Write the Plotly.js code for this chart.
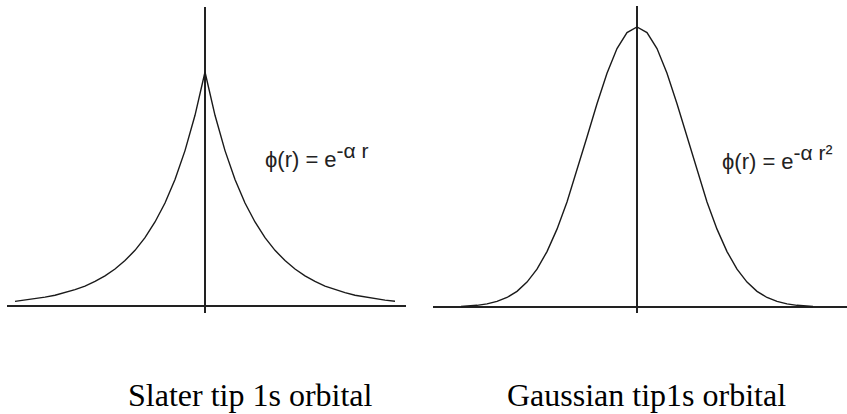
<!DOCTYPE html>
<html>
<head>
<meta charset="utf-8">
<script src="https://cdn.plot.ly/plotly-3.0.1.min.js"></script>
<style>html,body{margin:0;padding:0;background:#fff;}#chart{width:847px;height:414px;}</style>
</head>
<body>
<div id="chart"></div>
<script>
// Slater orbital: radial distance (px-like units from nucleus) and relative amplitude
const slaterR = [-190,-180,-170,-160,-150,-140,-130,-120,-110,-100,-90,-80,-70,-60,-50,-40,-30,-20,-10,0,10,20,30,40,50,60,70,80,90,100,110,120,130,140,150,160,170,180,190];
const slaterPhi = [0.020,0.025,0.031,0.038,0.046,0.057,0.070,0.085,0.105,0.129,0.158,0.194,0.238,0.292,0.359,0.440,0.541,0.664,0.815,1.000,0.815,0.664,0.541,0.440,0.359,0.292,0.238,0.194,0.158,0.129,0.105,0.085,0.070,0.057,0.046,0.038,0.031,0.025,0.020];

// Gaussian orbital
const gaussR = [-176,-170,-160,-150,-140,-130,-120,-110,-100,-90,-80,-70,-60,-50,-40,-30,-20,-10,0,10,20,30,40,50,60,70,80,90,100,110,120,130,140,150,160,170,176];
const gaussPhi = [0.002,0.003,0.006,0.011,0.020,0.034,0.056,0.089,0.135,0.198,0.278,0.375,0.487,0.607,0.726,0.835,0.923,0.980,1.000,0.980,0.923,0.835,0.726,0.607,0.487,0.375,0.278,0.198,0.135,0.089,0.056,0.034,0.020,0.011,0.006,0.003,0.002];

const formulaLeft = "ϕ(r) = e<sup><span style=\"font-size:21px\">-α r</span></sup>";
const formulaRight = "ϕ(r) = e<sup><span style=\"font-size:21px\">-α r²</span></sup>";
const captionLeft = "Slater tip 1s orbital";
const captionRight = "Gaussian tip1s orbital";

const W = 847, H = 414;
const lineColor = "#1a1a1a";

const traces = [
  {x: slaterR, y: slaterPhi, type: "scatter", mode: "lines", xaxis: "x", yaxis: "y",
   line: {color: lineColor, width: 1.4}, hoverinfo: "skip"},
  {x: gaussR, y: gaussPhi, type: "scatter", mode: "lines", xaxis: "x2", yaxis: "y2",
   line: {color: lineColor, width: 1.4}, hoverinfo: "skip"}
];

function ax(domain, range) {
  return {domain: domain, range: range, showgrid: false, showticklabels: false, ticks: "",
          showline: false, zeroline: true, zerolinecolor: "#222", zerolinewidth: 1.6, fixedrange: true};
}

const layout = {
  width: W, height: H,
  margin: {l: 0, r: 0, t: 0, b: 0},
  paper_bgcolor: "#ffffff", plot_bgcolor: "#ffffff",
  showlegend: false,
  xaxis: ax([7/W, 406/W], [-198, 201]),
  yaxis: ax([1 - 313/H, 1 - 7/H], [-7/234, 299/234]),
  xaxis2: ax([433/W, 1], [-204, 210]),
  yaxis2: ax([1 - 313/H, 1 - 6/H], [-6/280, 301/280]),
  annotations: [
    {text: formulaLeft, xref: "paper", yref: "paper", x: 263/W, y: 1 - 155/H, xanchor: "left", yanchor: "middle",
     showarrow: false, font: {family: "Liberation Sans, Arial", size: 22, color: "#222"}},
    {text: formulaRight, xref: "paper", yref: "paper", x: 720/W, y: 1 - 157/H, xanchor: "left", yanchor: "middle",
     showarrow: false, font: {family: "Liberation Sans, Arial", size: 22, color: "#222"}},
    {text: captionLeft, xref: "paper", yref: "paper", x: 250/W, y: 1 - 395/H, xanchor: "center", yanchor: "middle",
     showarrow: false, font: {family: "Liberation Serif, Times New Roman", size: 32, color: "#000"}},
    {text: captionRight, xref: "paper", yref: "paper", x: 646/W, y: 1 - 395/H, xanchor: "center", yanchor: "middle",
     showarrow: false, font: {family: "Liberation Serif, Times New Roman", size: 32, color: "#000"}}
  ]
};

Plotly.newPlot("chart", traces, layout, {staticPlot: true, displayModeBar: false});
</script>
</body>
</html>
